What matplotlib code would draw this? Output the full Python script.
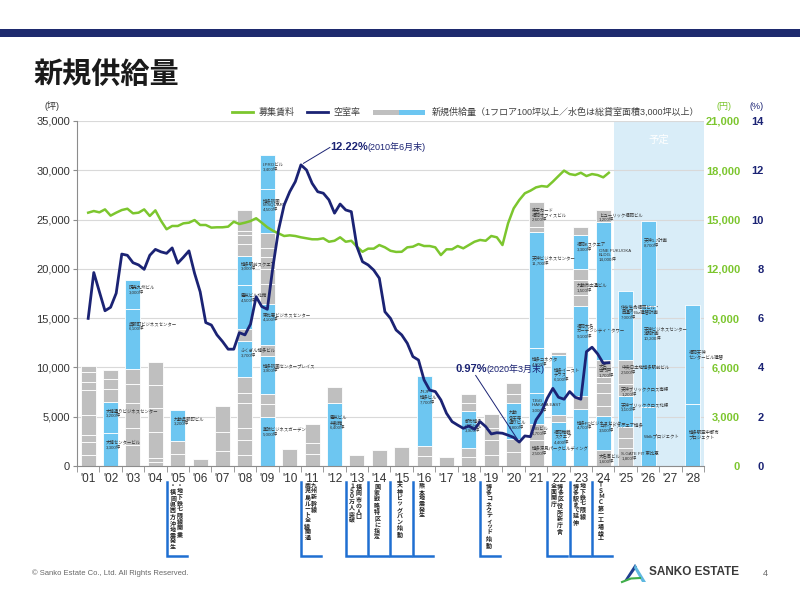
"""Fukuoka office market: new supply (stacked bars), asking rent and vacancy rate."""

import numpy as np
import matplotlib
matplotlib.use("Agg")  # headless
import matplotlib.pyplot as plt
import matplotlib.transforms as mtransforms
from matplotlib.lines import Line2D
from matplotlib.patches import Rectangle, Polygon

plt.rcParams['font.family'] = ['Liberation Sans', 'Noto Sans CJK JP', 'DejaVu Sans']

# ---------------------------------------------------------------- data
years = ["'01", "'02", "'03", "'04", "'05", "'06", "'07", "'08", "'09", "'10",
         "'11", "'12", "'13", "'14", "'15", "'16", "'17", "'18", "'19", "'20",
         "'21", "'22", "'23", "'24", "'25", "'26", "'27", "'28"]
forecast_from = "'25"

# new supply per year, segments bottom -> top (tsubo); g = gray, b = >=3,000 tsubo
supply_sizes = [
    [1100, 1350, 700, 2000, 2550, 850, 1000, 550],                                  # '01
    [3300, 3200, 1300, 1000, 900],                                                  # '02
    [2100, 1800, 2500, 1900, 1500, 6100, 3000],                                     # '03
    [450, 350, 2700, 2400, 2300, 2300],                                             # '04
    [1200, 1300, 3200],                                                             # '05
    [700],                                                                          # '06
    [1500, 1900, 2700],                                                             # '07
    [1100, 1500, 1300, 2500, 1000, 1600, 3700, 1150, 4500, 3000, 1200, 900, 400, 2100],  # '08
    [5000, 1300, 1000, 3900, 1100, 4100, 2100, 1500, 1200, 900, 1500, 4500, 3400],  # '09
    [1700],                                                                         # '10
    [1200, 1100, 2000],                                                             # '11
    [6400, 1650],                                                                   # '12
    [1150],                                                                         # '13
    [1600],                                                                         # '14
    [1950],                                                                         # '15
    [1000, 1000, 7100],                                                             # '16
    [900],                                                                          # '17
    [900, 900, 3800, 800, 900],                                                     # '18
    [1100, 1500, 1300, 1400],                                                       # '19
    [1400, 1300, 3650, 1000, 1100],                                                 # '20
    [2600, 1700, 3100, 4600, 11700, 500, 2600],                                     # '21
    [4450, 680, 6100, 350],                                                         # '22
    [5800, 1350, 9100, 1100, 1500, 1100, 3450, 850],                                # '23
    [1600, 3500, 1000, 1300, 1000, 650, 1700, 14000, 1200],                         # '24
    [1800, 1000, 1200, 3100, 1200, 2500, 7000],                                     # '25
    [6000, 10200, 8700],                                                            # '26
    [],                                                                             # '27
    [6300, 10000],                                                                  # '28
]
supply_kinds = [
    "gggggggg", "bbggg", "gggggbb", "gggggg", "ggb", "g", "ggg",
    "ggggggbgbbgggg", "bggbgbgggggbb", "g", "ggg", "bg", "g", "g", "g",
    "ggb", "g", "ggbgg", "gggg", "ggbgg", "ggbbbgg", "bgbg", "bgbgggbg",
    "gbgggggbg", "gggbggb", "bbb", "", "bb",
]
supply_labels = {
    ("'02", 0): "大博センタービル\n3,300坪",
    ("'02", 1): "大博通りビジネスセンター\n3,200坪",
    ("'03", 5): "呉服町ビジネスセンター\n6,100坪",
    ("'03", 6): "読売九州ビル\n3,000坪",
    ("'05", 2): "九勧呉服町ビル\n3,200坪",
    ("'08", 6): "ふくぎん博多ビル\n3,700坪",
    ("'08", 8): "電気ビル北館\n4,500坪",
    ("'08", 9): "博多駅前スクエア\n3,000坪",
    ("'09", 0): "薬院ビジネスガーデン\n5,000坪",
    ("'09", 3): "博多祇園センタープレイス\n3,900坪",
    ("'09", 5): "東比恵ビジネスセンター\n4,100坪",
    ("'09", 11): "博多祇園\nM-SQUARE\n4,500坪",
    ("'09", 12): "I-PROビル\n3,400坪",
    ("'12", 0): "電気ビル\n共創館\n6,400坪",
    ("'16", 2): "JRJP\n博多ビル\n7,700坪",
    ("'18", 2): "都市博多\n中央ビル\n3,900坪",
    ("'20", 2): "九勧\n承天寺\n通りビル\n3,800坪",
    ("'21", 0): "博多深見パークビルディング\n2,500坪",
    ("'21", 1): "IMGビル\n1,700坪",
    ("'21", 2): "T-BiG\nHAKATA EAST\n3,000坪",
    ("'21", 3): "博多コネクタ\n4,600坪",
    ("'21", 4): "天神ビジネスセンター\n11,700坪",
    ("'21", 6): "楽天カード\n福岡オフィスビル\n2,600坪",
    ("'22", 0): "福岡舞鶴\nスクエア\n4,400坪",
    ("'22", 2): "博多イースト\nテラス\n6,100坪",
    ("'23", 0): "博多FDビジネスセンター\n4,700坪",
    ("'23", 2): "福岡大名\nガーデンシティ・タワー\n9,100坪",
    ("'23", 4): "九勧市広通ビル\n1,500坪",
    ("'23", 6): "福岡Kスクエア\n3,300坪",
    ("'24", 0): "大名吾ビル\n1,600坪",
    ("'24", 1): "コネクトスクエア博多\n3,500坪",
    ("'24", 6): "大名\n古門戸\n1,700坪",
    ("'24", 7): "ONE FUKUOKA\nBLDG.\n14,000坪",
    ("'24", 8): "ヒューリック福岡ビル\n1,200坪",
    ("'25", 0): "S-GATE FIT 東比恵\n1,800坪",
    ("'25", 3): "天神ブリッククロス北棟\n3,100坪",
    ("'25", 4): "天神ブリッククロス南棟\n1,200坪",
    ("'25", 5): "中央日土地博多駅前ビル\n2,500坪",
    ("'25", 6): "住友生命福岡ビル・\n西通りBiz建替計画\n7,000坪",
    ("'26", 0): "Walkプロジェクト",
    ("'26", 1): "天神ビジネスセンター\n2期計画\n10,200坪",
    ("'26", 2): "天神1-7計画\n8,700坪",
    ("'28", 0): "博多駅空中都市\nプロジェクト",
    ("'28", 1): "福岡天神\nセンタービル建替",
}

# quarterly series, Dec 2000 onwards (first point sits on '01)
vacancy = [
    5.99, 7.85, 7.07, 6.30, 6.44, 7.01, 8.60, 8.55, 8.25, 8.16,
    7.98, 8.55, 8.79, 8.69, 8.63, 8.85, 8.23, 8.47, 8.73, 7.82,
    7.07, 5.82, 5.72, 5.32, 5.05, 4.74, 4.74, 5.41, 5.32, 5.76,
    6.87, 6.47, 6.36, 8.09, 9.58, 10.59, 11.13, 11.54, 12.22, 12.01,
    11.47, 11.13, 11.07, 10.80, 10.26, 10.63, 10.39, 10.32, 8.90, 8.29,
    8.16, 7.95, 7.62, 6.26, 5.99, 5.52, 5.32, 4.98, 4.44, 4.30,
    3.49, 3.08, 3.02, 2.68, 2.14, 1.80, 1.66, 1.53, 1.62, 1.49,
    1.80, 1.60, 1.30, 1.35, 1.33, 1.25, 1.16, 0.97, 1.22, 1.19,
    1.87, 2.20, 2.75, 3.15, 2.79, 2.71, 3.02, 2.79, 2.71, 4.64,
    4.82, 4.55, 4.17, 4.19,
]
rent = [
    15420, 15520, 15440, 15620, 15240, 15420, 15580, 15660, 15380, 15420,
    15620, 15220, 15560, 14930, 14410, 14610, 14610, 14770, 14810, 14970,
    14670, 14670, 14510, 14530, 14530, 14570, 14870, 14730, 14810, 14910,
    15080, 14810, 14530, 14320, 14160, 14000, 14040, 14000, 13920, 13860,
    13800, 13800, 13860, 13650, 13710, 13920, 13650, 13710, 13350, 13040,
    13230, 13230, 13450, 13310, 13100, 13030, 13040, 13310, 13350, 13510,
    13390, 13390, 13310, 12840, 13190, 13190, 13390, 13250, 13450, 13650,
    13760, 13710, 14000, 13920, 13450, 14770, 15680, 16190, 16600, 16760,
    16960, 17040, 17000, 17310, 17650, 17980, 17770, 17710, 17850, 17650,
    17770, 17710, 17570, 17850,
]

events_year = ["'05", "'11", "'13", "'14", "'15", "'16", "'19", "'22", "'23", "'24"]
events_text = [
    ["・地下鉄七隈線開業", "・福岡県西方沖地震発生"],
    ["九州新幹線", "鹿児島ルート全線開通"],
    ["福岡市の人口", "１５０万人突破"],
    ["国家戦略特区に指定"],
    ["天神ビッグバン始動"],
    ["熊本地震発生"],
    ["博多コネクティッド始動"],
    ["博多区役所新庁舎", "全面開庁"],
    ["地下鉄七隈線", "博多駅まで延伸"],
    ["ＴＳＭＣ第一工場竣工"],
]

# ---------------------------------------------------------------- style
NAVY = "#1B2374"
GREEN = "#7CC62E"
BLUE = "#6DC6F1"
GRAY = "#BFBFBF"
SHADE = "#D9EDF8"
TEXT = "#333333"
AXIS = "#8C8C8C"
EVENT_BLUE = "#1F6FD1"
HEADER = "#1E2A6E"

W, H = 800, 597


def fx(x):
    return x / W


def fy(y):
    return 1 - y / H


fig = plt.figure(figsize=(W / 100, H / 100), dpi=100)

# header stripe + title
fig.add_artist(Rectangle((0, fy(37)), 1, fy(29) - fy(37), transform=fig.transFigure,
                         color=HEADER, lw=0))
fig.text(fx(33), fy(75), "新規供給量", fontsize=21, fontweight="bold", color="#1a1a1a",
         va="center", ha="left")

ax = fig.add_axes([fx(77), fy(466), fx(704) - fx(77), fy(121) - fy(466)])
n = len(years)
xc = np.arange(n)
ax.set_xlim(-0.5, n - 0.5)
ax.set_ylim(0, 35000)

fc = years.index(forecast_from)
ax.axvspan(fc - 0.5, n - 0.5, color=SHADE, lw=0, zorder=0)
ax.text((fc - 0.5 + n - 0.5) / 2, 0.945, "予定", color="white", fontsize=7.5,
        ha="center", va="center",
        transform=mtransforms.blended_transform_factory(ax.transData, ax.transAxes))

# stacked supply bars
bar_w = 0.67
bottoms = np.zeros(n)
for yi, (sizes, kinds) in enumerate(zip(supply_sizes, supply_kinds)):
    for si, (size, kind) in enumerate(zip(sizes, kinds)):
        ax.bar(yi, size, bottom=bottoms[yi], width=bar_w,
               color=BLUE if kind == "b" else GRAY,
               edgecolor="white", linewidth=0.6, zorder=2)
        label = supply_labels.get((years[yi], si))
        if label:
            top = bottoms[yi] + size
            if "坪" in label:      # built: name + size near the segment top
                ly, va = top - min(0.2 * size, 2700), "top"
            else:                  # planned, no size yet: centred
                ly, va = top - size / 2, "center"
            ax.text(yi - bar_w / 2 + 0.14, ly, label, fontsize=3.2, color=TEXT,
                    ha="left", va=va, linespacing=1.1, zorder=3)
        bottoms[yi] += size

ax.set_yticks(range(0, 35001, 5000))
ax.set_yticklabels([f"{v:,}" for v in range(0, 35001, 5000)])
ax.yaxis.grid(True, color="#D9D9D9", lw=0.8)
ax.set_axisbelow(True)
ax.tick_params(axis="y", length=3, color=AXIS, labelsize=8, labelcolor=TEXT, pad=2)
ax.set_xticks(xc)
ax.set_xticklabels(years)
ax.set_xticks(np.arange(-0.5, n), minor=True)
ax.tick_params(axis="x", which="major", length=0, pad=5, labelsize=8.5, labelcolor=TEXT)
ax.tick_params(axis="x", which="minor", length=4, color=AXIS)
for side in ("top", "right"):
    ax.spines[side].set_visible(False)
for side in ("left", "bottom"):
    ax.spines[side].set_color(AXIS)
    ax.spines[side].set_linewidth(0.8)

# right axes: rent (yen) and vacancy (%)
ax_yen = ax.twinx()
ax_yen.set_ylim(0, 21000)
ax_yen.set_yticks(range(0, 21001, 3000))
ax_yen.set_yticklabels([f"{v:,}" for v in range(0, 21001, 3000)])
ax_yen.tick_params(axis="y", length=0, pad=26, labelsize=8, labelcolor=GREEN)
plt.setp(ax_yen.get_yticklabels(), ha="right", fontweight="bold")

ax_pct = ax.twinx()
ax_pct.set_ylim(0, 14)
ax_pct.set_yticks(range(0, 15, 2))
ax_pct.tick_params(axis="y", length=0, pad=43, labelsize=8, labelcolor=NAVY)
plt.setp(ax_pct.get_yticklabels(), ha="right", fontweight="bold")
for a in (ax_yen, ax_pct):
    for s in a.spines.values():
        s.set_visible(False)

x_q = np.arange(len(vacancy)) * 0.25
ax_yen.plot(x_q, rent, color=GREEN, lw=1.8, solid_joinstyle="round", zorder=3)
ax_pct.plot(x_q, vacancy, color=NAVY, lw=2.0, solid_joinstyle="round", zorder=4)


def callout(idx, text_xy, line_from, note):
    """Thin pointer from a vacancy point to a bold value label plus a date note."""
    ax_pct.annotate("", xy=(x_q[idx], vacancy[idx]), xytext=line_from,
                    arrowprops=dict(arrowstyle="-", color=NAVY, lw=0.7,
                                    shrinkA=0, shrinkB=2))
    t = ax_pct.text(text_xy[0], text_xy[1], f"{vacancy[idx]:.2f}%", ha="left",
                    va="center", fontsize=8, fontweight="bold", color=NAVY)
    ax_pct.annotate(note, xy=(1, 0.5), xycoords=t, ha="left", va="center",
                    fontsize=6.5, color=NAVY)


ip = int(np.argmax(vacancy))
callout(ip, (10.8, 12.93), (10.8, 12.93), "(2010年6月末)")
im = int(np.argmin(vacancy))
callout(im, (16.39, 3.94), (17.3, 3.68), "(2020年3月末)")

# unit labels
fig.text(fx(52), fy(106.5), "(坪)", ha="center", va="center", fontsize=6.5, color=TEXT)
fig.text(fx(724), fy(106.5), "(円)", ha="center", va="center", fontsize=6.5, color=GREEN)
fig.text(fx(757), fy(106.5), "(%)", ha="center", va="center", fontsize=6.5, color=NAVY)

# legend (drawn by hand to match the mixed swatch)
fig.add_artist(Line2D([fx(232), fx(253)], [fy(112)] * 2, transform=fig.transFigure,
                      color=GREEN, lw=2))
fig.text(fx(258.5), fy(112), "募集賃料", fontsize=6.5, va="center", color="#404040")
fig.add_artist(Line2D([fx(307), fx(328)], [fy(112)] * 2, transform=fig.transFigure,
                      color=NAVY, lw=2))
fig.text(fx(333), fy(112), "空室率", fontsize=6.5, va="center", color="#404040")
fig.add_artist(Rectangle((fx(373), fy(114.5)), fx(26), fy(110) - fy(114.5),
                         transform=fig.transFigure, color=GRAY, lw=0))
fig.add_artist(Rectangle((fx(399), fy(114.5)), fx(26), fy(110) - fy(114.5),
                         transform=fig.transFigure, color=BLUE, lw=0))
fig.text(fx(431.5), fy(112), "新規供給量（1フロア100坪以上／水色は総貸室面積3,000坪以上）",
         fontsize=6.5, va="center", color="#404040")

# event brackets below the axis
px_per_cat = (704 - 77) / n
trans = mtransforms.blended_transform_factory(ax.transData, fig.transFigure)
for ey, cols in zip(events_year, events_text):
    xb = years.index(ey) - 0.5
    ax.plot([xb, xb, xb + 0.9], [fy(481.5), fy(556), fy(556)], transform=trans,
            color=EVENT_BLUE, lw=1.8, clip_on=False, solid_joinstyle="miter")
    offsets = [9] if len(cols) == 1 else [13, 6.5]
    for col, off in zip(cols, offsets):
        ax.text(xb + off / px_per_cat, fy(483.5), "\n".join(col), transform=trans,
                ha="center", va="top", fontsize=4.3, fontweight="bold",
                linespacing=1.12, color="#222222", clip_on=False)

# footer
fig.text(fx(32), fy(573), "© Sanko Estate Co., Ltd. All Rights Reserved.", fontsize=5.5,
         color="#666666", va="center")
fig.add_artist(Polygon([(fx(624), fy(581)), (fx(635), fy(564)), (fx(637), fy(567)),
                        (fx(627), fy(581))], closed=True, transform=fig.transFigure,
                       color="#1F3F8F", lw=0))
fig.add_artist(Polygon([(fx(635), fy(564)), (fx(646), fy(582)), (fx(642), fy(582)),
                        (fx(634), fy(568))], closed=True, transform=fig.transFigure,
                       color="#5FB8E0", lw=0))
fig.add_artist(Line2D([fx(622), fx(631), fx(640)], [fy(582), fy(578.5), fy(578)],
                      transform=fig.transFigure, color="#3FAE49", lw=1.5))
fig.text(fx(649), fy(572), "SANKO ESTATE", fontsize=8.5, fontweight="bold",
         color="#3A3A3A", va="center")
fig.text(fx(765), fy(573), "4", fontsize=6.5, color="#666666", va="center", ha="center")

fig.savefig("out.png", dpi=100)
plt.close(fig)
